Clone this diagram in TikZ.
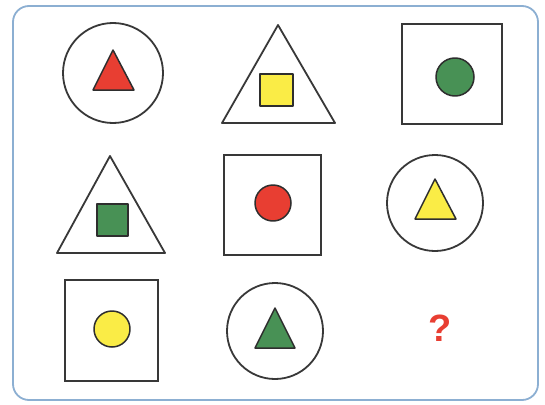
\documentclass[tikz,border=0pt]{standalone}
\usepackage{fontspec}
\setmainfont{Liberation Sans}
\begin{document}
\begin{tikzpicture}[x=1pt,y=-1pt,
  outer/.style={draw=black!78,line width=1.8pt},
  inner/.style={draw=black!82,line width=1.5pt,line join=round},
  frame/.style={draw={rgb,255:red,140;green,175;blue,210},line width=1.8pt,rounded corners=16pt}]
\definecolor{qred}{RGB}{232,62,50}
\definecolor{qyellow}{RGB}{250,236,70}
\definecolor{qgreen}{RGB}{72,145,85}
\useasboundingbox (0,0) rectangle (545,404);
\fill[white] (0,0) rectangle (545,404);
\draw[frame] (13,6) rectangle (538,400);
% row 1
\draw[outer] (113,73) circle (50);
\draw[inner,fill=qred] (113,50) -- (134,90) -- (93,90) -- cycle;
\draw[outer,line join=round] (278,25) -- (335,123) -- (222,123) -- cycle;
\draw[inner,fill=qyellow] (260,74) rectangle (293,106);
\draw[outer] (402,24) rectangle (502,124);
\draw[inner,fill=qgreen] (455,77) circle (19);
% row 2
\draw[outer,line join=round] (110,156) -- (165,253) -- (57,253) -- cycle;
\draw[inner,fill=qgreen] (97,204) rectangle (128,236);
\draw[outer] (224,155) rectangle (321,255);
\draw[inner,fill=qred] (273,203) circle (18);
\draw[outer] (435,203) circle (48);
\draw[inner,fill=qyellow] (435,179) -- (456,219) -- (415,219) -- cycle;
% row 3
\draw[outer] (65,280) rectangle (158,381);
\draw[inner,fill=qyellow] (112,329) circle (18);
\draw[outer] (275,331) circle (48);
\draw[inner,fill=qgreen] (275,308) -- (295,348) -- (255,348) -- cycle;
\node[text=qred,font=\fontsize{38}{42}\selectfont\bfseries] (q) at (440,328) {?};
\end{tikzpicture}
\end{document}
